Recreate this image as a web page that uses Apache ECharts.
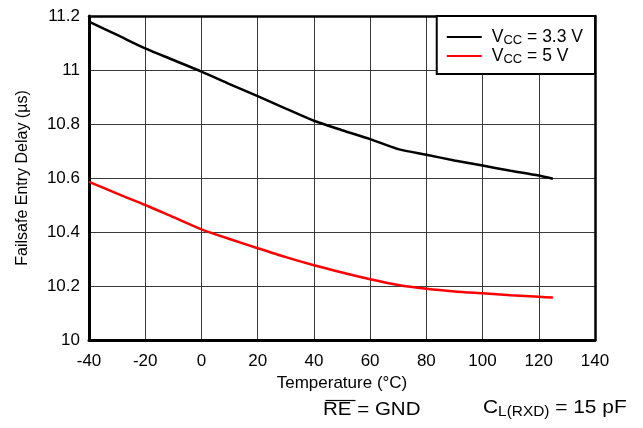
<!DOCTYPE html>
<html>
<head>
<meta charset="utf-8">
<script src="https://cdn.jsdelivr.net/npm/echarts@6/dist/echarts.min.js"></script>
<style>
  html, body { margin: 0; padding: 0; background: #fff; }
  #chart { width: 643px; height: 428px; }
</style>
</head>
<body>
<div id="chart"></div>
<script>
// Failsafe entry delay versus ambient temperature
const temperatures = [-40, -30, -20, -10, 0, 10, 20, 30, 40, 50, 60, 70, 80, 90, 100, 110, 120, 125];
const delayVcc33 = [11.179, 11.13, 11.08, 11.037, 10.994, 10.948, 10.903, 10.857, 10.812, 10.777, 10.744, 10.707, 10.686, 10.665, 10.646, 10.627, 10.609, 10.597];
const delayVcc5 = [10.586, 10.542, 10.50, 10.455, 10.41, 10.374, 10.34, 10.307, 10.277, 10.25, 10.225, 10.204, 10.19, 10.18, 10.173, 10.166, 10.16, 10.157];
const seriesNames = ['VCC = 3.3 V', 'VCC = 5 V'];
const legendRich = { 'VCC = 3.3 V': '{m|V}{s|CC}{m| = 3.3 V}', 'VCC = 5 V': '{m|V}{s|CC}{m| = 5 V}' };

const FONT = '"Liberation Sans", Arial, sans-serif';

const chart = echarts.init(document.getElementById('chart'), null, { renderer: 'canvas' });

const pairs = (ys) => temperatures.map((t, i) => [t, ys[i]]);

const subRich = {
  m: { fontFamily: FONT, fontSize: 17.5, color: '#000', lineHeight: 20, verticalAlign: 'middle' },
  s: { fontFamily: FONT, fontSize: 13, color: '#000', lineHeight: 13, verticalAlign: 'bottom' }
};

chart.setOption({
  backgroundColor: '#fff',
  animation: false,
  grid: { left: 89, right: 48, top: 16, bottom: 88, containLabel: false },
  xAxis: [{
    type: 'value', min: -40, max: 140, interval: 20,
    name: 'Temperature (°C)', nameLocation: 'middle', nameGap: 21,
    nameTextStyle: { fontFamily: FONT, fontSize: 17, color: '#000' },
    axisLine: { show: true, onZero: false, lineStyle: { color: '#000', width: 3 } },
    axisTick: { show: false },
    axisLabel: { fontFamily: FONT, fontSize: 17, color: '#000', margin: 13 },
    splitLine: { show: true, lineStyle: { color: '#3a3a3a', width: 1 } }
  }, {
    type: 'value', min: -40, max: 140, interval: 20, position: 'top',
    axisLine: { show: true, onZero: false, lineStyle: { color: '#000', width: 2.5 } },
    axisTick: { show: false }, axisLabel: { show: false }, splitLine: { show: false }
  }],
  yAxis: [{
    type: 'value', min: 10, max: 11.2, interval: 0.2,
    name: 'Failsafe Entry Delay (µs)', nameLocation: 'middle', nameGap: 58,
    nameTextStyle: { fontFamily: FONT, fontSize: 16, color: '#000' },
    axisLine: { show: true, onZero: false, lineStyle: { color: '#000', width: 3 } },
    axisTick: { show: false },
    axisLabel: { fontFamily: FONT, fontSize: 17, color: '#000', margin: 9 },
    splitLine: { show: true, lineStyle: { color: '#3a3a3a', width: 1 } }
  }, {
    type: 'value', min: 10, max: 11.2, interval: 0.2, position: 'right',
    axisLine: { show: true, onZero: false, lineStyle: { color: '#000', width: 2.5 } },
    axisTick: { show: false }, axisLabel: { show: false }, splitLine: { show: false }
  }],
  legend: {
    right: 48, top: 16,
    orient: 'vertical',
    backgroundColor: '#fff',
    borderColor: '#000', borderWidth: 2, borderRadius: 0,
    padding: [12, 12, 8, 10],
    itemGap: 0,
    itemWidth: 35, itemHeight: 2,
    icon: 'rect',
    data: seriesNames,
    formatter: (name) => legendRich[name],
    textStyle: { fontFamily: FONT, fontSize: 17.5, color: '#000', padding: [0, 0, 0, 5], rich: subRich }
  },
  series: [{
    name: seriesNames[0], type: 'line', data: pairs(delayVcc33),
    smooth: 0.25, symbol: 'none', color: '#000',
    lineStyle: { color: '#000', width: 2.5 }, z: 5
  }, {
    name: seriesNames[1], type: 'line', data: pairs(delayVcc5),
    smooth: 0.25, symbol: 'none', color: '#ff0000',
    lineStyle: { color: '#ff0000', width: 2.5 }, z: 5
  }],
  graphic: [{
    type: 'text', left: 323, top: 400, scaleX: 1.08,
    style: { text: 'RE = GND', font: '19px ' + FONT, fill: '#000' }
  }, {
    type: 'line', left: 323, top: 398,
    shape: { x1: 0, y1: 0, x2: 30, y2: 0 },
    style: { stroke: '#000', lineWidth: 1.2 }
  }, {
    type: 'text', left: 483, top: 398, scaleX: 1.1,
    style: {
      text: '{m|C}{s|L(RXD)}{m| = 15 pF}',
      rich: {
        m: { fontFamily: FONT, fontSize: 19, fill: '#000', lineHeight: 24, verticalAlign: 'middle' },
        s: { fontFamily: FONT, fontSize: 14, fill: '#000', lineHeight: 14, verticalAlign: 'bottom' }
      }
    }
  }]
});
</script>
</body>
</html>
